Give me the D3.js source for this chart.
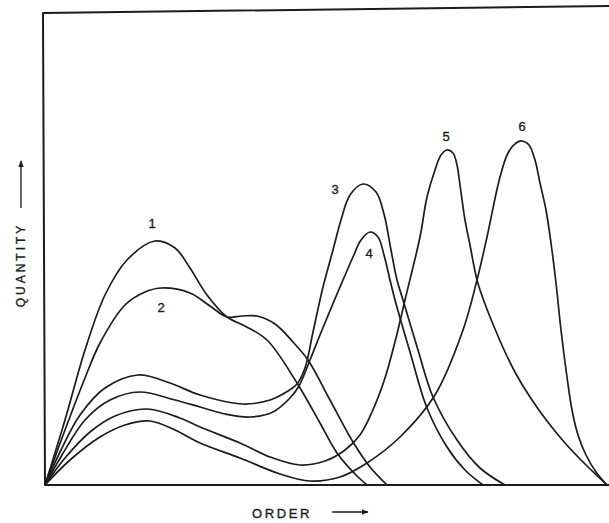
<!DOCTYPE html>
<html>
<head>
<meta charset="utf-8">
<script src="https://cdn.jsdelivr.net/npm/d3@7/dist/d3.min.js"></script>
<style>
  html, body { margin: 0; padding: 0; background: #fff; }
  svg { display: block; }
  text { font-family: "Liberation Sans", "DejaVu Sans", sans-serif; fill: #1c1c1c; stroke: #1c1c1c; stroke-width: 0.35px; }
</style>
</head>
<body>
<svg id="chart" width="609" height="523"></svg>
<script>
// Distribution curves: [order, quantity] samples for each numbered series
const curve1 = [[0,0],[4,13],[8,27],[12,38],[16.4,45],[22,48.8],[26,47.4],[29,43.4],[32.4,38],[36.4,33.6],
  [40,31.8],[44.4,29],[50.4,20.4],[55,12.4],[58.4,6.4],[62,2.2],[64.4,0]];
const curve2 = [[0,0],[4,11],[8,21.4],[11,28.4],[16,36],[20,38.6],[23.4,39.4],[29,38.4],[33,35.8],[36.4,33.6],
  [39.4,33.8],[42.4,33.8],[46,32.2],[49.6,28.6],[52.6,25],[57,17],[61.6,8.6],[65,3.6],[68.4,0]];
const curve3 = [[0,0],[3,6.6],[7,14],[12,19.4],[18.6,22],[25,20.4],[31,18],[39.6,16.2],[45,17],[48.6,18.8],
  [50.4,20.2],[52,23.4],[53.6,30.6],[55.6,39.6],[57.6,47],[59.2,53],[61,58],[63.6,60.2],[66.2,58.6],
  [67.8,54.2],[69.2,47],[70.4,41],[71.6,37],[74.6,27],[77.6,17.6],[82.4,9],[87,3.4],[92,0]];
const curve4 = [[0,0],[3.4,6],[8,13],[13,17],[19,18.6],[26,17],[31,15.6],[36,14.2],[41,13.6],[45.6,14.6],
  [49,17.4],[50.8,19.8],[53,25],[55.4,31],[59,39.6],[61.6,45.6],[63.2,49],[65,50.6],[66.6,49.6],
  [67.8,46],[69,41],[70,37],[73,26.6],[76.4,15.4],[80.4,7.6],[84,3],[87.6,0]];
const curve5 = [[0,0],[4,5.4],[9,10.6],[14,13.8],[20.4,15.2],[27,13.4],[31,11.6],[39,8.4],[45,5.6],[51,4],
  [56,4.8],[60,7],[63,10],[65.4,14.6],[68,21.4],[70.2,29.4],[72,37],[75,49.6],[76.4,57.6],[78,63],
  [79.2,66],[80.4,67],[81.6,66.4],[82.4,64],[83,60],[84,53],[85,48],[86.4,41],[88,36.2],[90,31.2],
  [92,26.6],[94.2,22.2],[97,17.6],[100.4,12.8],[104,8.4],[108,4.2],[112.4,0]];
const curve6 = [[0,0],[5,5],[11,9.6],[16,12],[21,12.8],[26,11],[31,8.4],[39,5.4],[47,2.2],[53,0.8],
  [59,1.6],[64.4,4.4],[71,9.6],[78,18],[83.6,31],[86.4,41],[88.4,49.6],[91,61.6],[92.6,66.4],
  [94.2,68.4],[95.4,68.8],[96.8,68],[98,65],[99,60.4],[100.2,55],[101.2,48.4],[102.2,40.4],
  [103.2,31],[104.4,21.6],[105.4,15],[106.6,10],[108.2,6],[110.2,2.6],[112.4,0]];

const seriesLabels = ["1", "2", "3", "4", "5", "6"];
const seriesCurves = [curve1, curve2, curve3, curve4, curve5, curve6];
const xTitle = "ORDER";
const yTitle = "QUANTITY";

const orderDomain = [0, 112.8];
const quantityDomain = [0, 95];

const svg = d3.select("#chart");
const plot = { left: 45, right: 609, top: 10, bottom: 485 };
const ink = "#1c1c1c";

const x = d3.scaleLinear().domain(orderDomain).range([plot.left, plot.right]);
const y = d3.scaleLinear().domain(quantityDomain).range([plot.bottom, plot.top]);

// Frame: left and bottom axes with the top rule (no right edge)
svg.append("path")
  .attr("d", `M${plot.right},${plot.top - 4} L${plot.left - 2},${plot.top + 3} L${plot.left},${plot.bottom} L${plot.right},${plot.bottom}`)
  .attr("fill", "none")
  .attr("stroke", ink)
  .attr("stroke-width", 2)
  .attr("stroke-linejoin", "round");

// Curves
const line = d3.line()
  .x(d => x(d[0]))
  .y(d => y(d[1]))
  .curve(d3.curveCatmullRom.alpha(0.5));

svg.append("g")
  .selectAll("path")
  .data(seriesCurves)
  .join("path")
  .attr("d", line)
  .attr("fill", "none")
  .attr("stroke", ink)
  .attr("stroke-width", 1.7)
  .attr("stroke-linejoin", "round");

// Series numbers placed next to each curve's peak
const labelOffsets = [[-3, -18], [-1, 19], [-28, 5], [-1, 21], [-1, -14], [0, -15]];
svg.append("g")
  .selectAll("text")
  .data(seriesCurves)
  .join("text")
  .attr("x", (c, i) => x(d3.greatest(c, d => d[1])[0]) + labelOffsets[i][0])
  .attr("y", (c, i) => y(d3.greatest(c, d => d[1])[1]) + labelOffsets[i][1])
  .attr("text-anchor", "middle")
  .attr("dominant-baseline", "central")
  .attr("font-size", 13)
  .text((c, i) => seriesLabels[i]);

// Axis titles with arrows
const defs = svg.append("defs");
defs.append("marker")
  .attr("id", "arrow")
  .attr("viewBox", "0 0 10 10")
  .attr("refX", 9).attr("refY", 5)
  .attr("markerWidth", 7).attr("markerHeight", 7)
  .attr("markerUnits", "userSpaceOnUse")
  .attr("orient", "auto")
  .append("path")
  .attr("d", "M0,1 L10,5 L0,9 Z")
  .attr("fill", ink);

svg.append("text")
  .attr("x", 282).attr("y", 513)
  .attr("text-anchor", "middle")
  .attr("dominant-baseline", "central")
  .attr("font-size", 13)
  .attr("letter-spacing", "2.6px")
  .text(xTitle);
svg.append("line")
  .attr("x1", 332).attr("y1", 512).attr("x2", 368).attr("y2", 512)
  .attr("stroke", ink).attr("stroke-width", 1.3)
  .attr("marker-end", "url(#arrow)");

svg.append("text")
  .attr("transform", "translate(21,265) rotate(-90)")
  .attr("text-anchor", "middle")
  .attr("dominant-baseline", "central")
  .attr("font-size", 12)
  .attr("letter-spacing", "3px")
  .text(yTitle);
svg.append("line")
  .attr("x1", 21).attr("y1", 208).attr("x2", 21).attr("y2", 161)
  .attr("stroke", ink).attr("stroke-width", 1.3)
  .attr("marker-end", "url(#arrow)");
</script>
</body>
</html>
